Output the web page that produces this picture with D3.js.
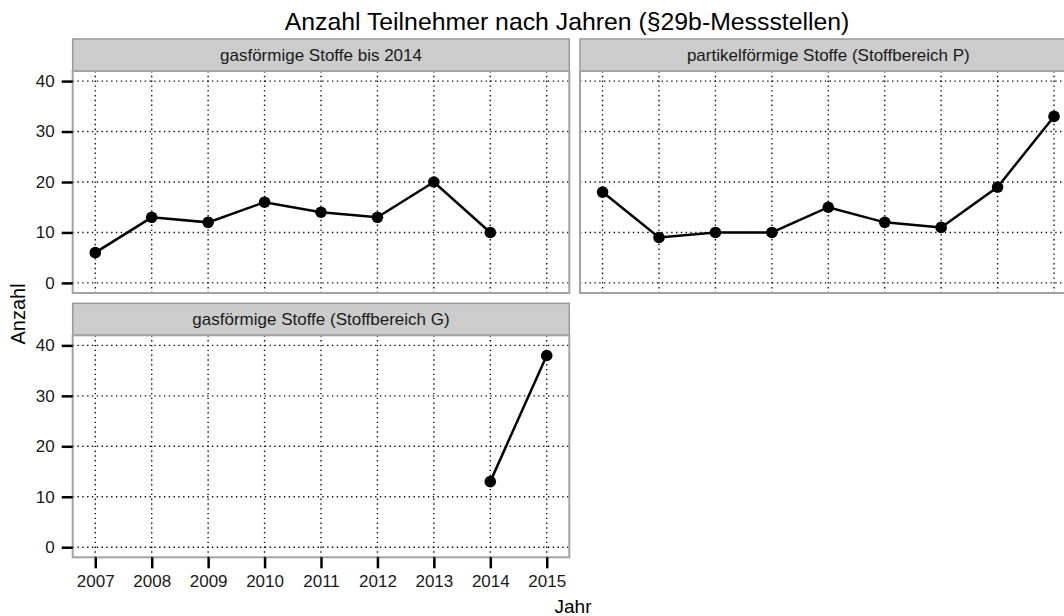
<!DOCTYPE html>
<html>
<head>
<meta charset="utf-8">
<script src="https://cdn.jsdelivr.net/npm/d3@7"></script>
<style>
  body { margin: 0; background: #fff; }
  svg { display: block; font-family: "Liberation Sans", Arial, sans-serif; }
</style>
</head>
<body>
<svg id="chart" width="1064" height="616"></svg>
<script>
// Data
var years = [2007, 2008, 2009, 2010, 2011, 2012, 2013, 2014, 2015];
var yTicks = [0, 10, 20, 30, 40];
var facetNames = ['gasförmige Stoffe bis 2014',
                  'partikelförmige Stoffe (Stoffbereich P)',
                  'gasförmige Stoffe (Stoffbereich G)'];
var gasBisYears = [2007, 2008, 2009, 2010, 2011, 2012, 2013, 2014];
var gasBisValues = [6, 13, 12, 16, 14, 13, 20, 10];
var partikelYears = [2007, 2008, 2009, 2010, 2011, 2012, 2013, 2014, 2015];
var partikelValues = [18, 9, 10, 10, 15, 12, 11, 19, 33];
var gasGYears = [2014, 2015];
var gasGValues = [13, 38];

var svg = d3.select('#chart');
var pw = 496.6, ph = 222, stripH = 32;

// panel layout: left, top of plot area, which axes to draw
var panels = [
  {name: facetNames[0], x: 72.7, y: 71, yAxis: true, xAxis: false,
   data: gasBisYears.map(function(d, i) { return {year: d, n: gasBisValues[i]}; })},
  {name: facetNames[1], x: 580, y: 71, yAxis: false, xAxis: false,
   data: partikelYears.map(function(d, i) { return {year: d, n: partikelValues[i]}; })},
  {name: facetNames[2], x: 72.7, y: 335.3, yAxis: true, xAxis: true,
   data: gasGYears.map(function(d, i) { return {year: d, n: gasGValues[i]}; })}
];

var xScale = d3.scaleLinear().domain([2006.6, 2015.4]).range([0, pw]);
var yScale = d3.scaleLinear().domain([-2, 42]).range([ph, 0]);

var line = d3.line()
  .x(function(d) { return xScale(d.year); })
  .y(function(d) { return yScale(d.n); });

panels.forEach(function(p) {
  var g = svg.append('g').attr('transform', 'translate(' + p.x + ',' + p.y + ')');

  // strip
  g.append('rect')
    .attr('x', 0).attr('y', -stripH).attr('width', pw).attr('height', stripH)
    .attr('fill', '#cccccc').attr('stroke', '#9a9a9a').attr('stroke-width', 1.5);
  g.append('text')
    .attr('x', pw / 2).attr('y', -stripH / 2 + 6)
    .attr('text-anchor', 'middle')
    .attr('font-size', 17).attr('fill', '#1a1a1a')
    .text(p.name);

  // panel background
  g.append('rect')
    .attr('width', pw).attr('height', ph)
    .attr('fill', '#fff');

  // grid
  g.selectAll('line.hgrid').data(yTicks).enter().append('line')
    .attr('class', 'hgrid')
    .attr('x1', 0).attr('x2', pw)
    .attr('y1', function(d) { return yScale(d); })
    .attr('y2', function(d) { return yScale(d); })
    .attr('stroke', '#111').attr('stroke-width', 1.4)
    .attr('stroke-dasharray', '1.4,3.4');
  g.selectAll('line.vgrid').data(years).enter().append('line')
    .attr('class', 'vgrid')
    .attr('y1', 0).attr('y2', ph)
    .attr('x1', function(d) { return xScale(d); })
    .attr('x2', function(d) { return xScale(d); })
    .attr('stroke', '#111').attr('stroke-width', 1.4)
    .attr('stroke-dasharray', '1.4,3.4');

  // series
  g.append('path')
    .datum(p.data)
    .attr('d', line)
    .attr('fill', 'none').attr('stroke', '#000').attr('stroke-width', 2.5);
  g.selectAll('circle').data(p.data).enter().append('circle')
    .attr('cx', function(d) { return xScale(d.year); })
    .attr('cy', function(d) { return yScale(d.n); })
    .attr('r', 5.8).attr('fill', '#000');

  // border
  g.append('rect')
    .attr('width', pw).attr('height', ph)
    .attr('fill', 'none').attr('stroke', '#a3a3a3').attr('stroke-width', 2);

  if (p.yAxis) {
    var ya = g.append('g')
      .call(d3.axisLeft(yScale).tickValues(yTicks).tickSizeInner(11).tickSizeOuter(0).tickPadding(7));
    ya.select('.domain').remove();
    ya.selectAll('line').attr('stroke', '#000').attr('stroke-width', 2.5);
    ya.selectAll('text').attr('font-size', 17).attr('fill', '#1a1a1a')
      .attr('font-family', '"Liberation Sans", Arial, sans-serif');
  }
  if (p.xAxis) {
    var xa = g.append('g').attr('transform', 'translate(0,' + ph + ')')
      .call(d3.axisBottom(xScale).tickValues(years).tickFormat(d3.format('d'))
        .tickSizeInner(11).tickSizeOuter(0).tickPadding(7));
    xa.select('.domain').remove();
    xa.selectAll('line').attr('stroke', '#000').attr('stroke-width', 2.5);
    xa.selectAll('text').attr('font-size', 17).attr('fill', '#1a1a1a')
      .attr('font-family', '"Liberation Sans", Arial, sans-serif');
  }
});

// titles
svg.append('text')
  .attr('x', 567).attr('y', 29.5)
  .attr('text-anchor', 'middle')
  .attr('font-size', 24.8).attr('fill', '#000')
  .text('Anzahl Teilnehmer nach Jahren (§29b-Messstellen)');

svg.append('text')
  .attr('x', 573).attr('y', 613)
  .attr('text-anchor', 'middle')
  .attr('font-size', 19).attr('fill', '#000')
  .text('Jahr');

svg.append('text')
  .attr('transform', 'translate(25,314) rotate(-90)')
  .attr('text-anchor', 'middle')
  .attr('font-size', 20).attr('fill', '#000')
  .text('Anzahl');
</script>
</body>
</html>
